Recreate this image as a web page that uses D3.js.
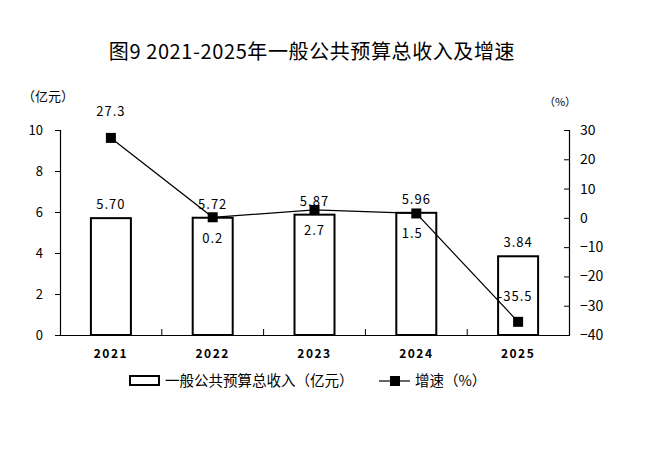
<!DOCTYPE html>
<html>
<head>
<meta charset="utf-8">
<script src="https://cdn.jsdelivr.net/npm/d3@7"></script>
<style>
  body { margin: 0; background: #fff; }
  text { font-family: "Noto Sans CJK SC", "Noto Sans", sans-serif; fill: #000; }
</style>
</head>
<body>
<svg id="chart" width="663" height="449"></svg>
<script>
const years = ['2021', '2022', '2023', '2024', '2025'];
const revenue = [5.70, 5.72, 5.87, 5.96, 3.84];
const growth = [27.3, 0.2, 2.7, 1.5, -35.5];
const leftTicks = [0, 2, 4, 6, 8, 10];
const rightTicks = [-40, -30, -20, -10, 0, 10, 20, 30];

const svg = d3.select('#chart');
const margin = { left: 60, right: 569, top: 130, bottom: 335 };

const x = d3.scaleBand().domain(years).range([margin.left, margin.right]);
const yLeft = d3.scaleLinear().domain([0, 10]).range([margin.bottom, margin.top]);
const yRight = d3.scaleLinear().domain([-40, 30]).range([margin.bottom, margin.top]);

// title
svg.append('text')
  .attr('x', 312).attr('y', 59)
  .attr('text-anchor', 'middle')
  .attr('font-size', 20)
  .attr('font-weight', 400)
  .attr('letter-spacing', 0.6)
  .text('图9 2021-2025年一般公共预算总收入及增速');

// unit labels
svg.append('text').attr('x', 48).attr('y', 101).attr('text-anchor', 'middle')
  .attr('font-size', 13).text('（亿元）');
svg.append('text').attr('x', 560).attr('y', 106).attr('text-anchor', 'middle')
  .attr('font-size', 11).text('（%）');

// left axis
const leftAxis = svg.append('g')
  .attr('transform', `translate(${margin.left},0)`)
  .call(d3.axisLeft(yLeft).tickValues(leftTicks).tickSize(5).tickPadding(12));
leftAxis.selectAll('text').attr('font-size', 13);

// right axis
const rightAxis = svg.append('g')
  .attr('transform', `translate(${margin.right},0)`)
  .call(d3.axisRight(yRight).tickValues(rightTicks).tickSize(-5).tickPadding(11));
rightAxis.selectAll('text').attr('font-size', 14);

[leftAxis, rightAxis].forEach(g => {
  g.select('.domain').attr('stroke', '#000').attr('stroke-width', 1.2);
  g.selectAll('.tick line').attr('stroke', '#000');
});

// bottom axis
const bottomAxis = svg.append('g')
  .attr('transform', `translate(0,${margin.bottom})`)
  .call(d3.axisBottom(x).tickSize(0).tickPadding(14));
bottomAxis.select('.domain').attr('stroke', '#000').attr('stroke-width', 1.2);
bottomAxis.selectAll('text').attr('font-size', 12).attr('font-weight', 'bold')
  .attr('letter-spacing', 1.5);
// category separators
bottomAxis.selectAll('.sep')
  .data(years.slice(1))
  .join('line')
  .attr('class', 'sep')
  .attr('x1', d => x(d)).attr('x2', d => x(d))
  .attr('y1', 0).attr('y2', -6)
  .attr('stroke', '#000');

// bars
const barW = 40;
svg.append('g').selectAll('rect')
  .data(years)
  .join('rect')
  .attr('x', d => x(d) + x.bandwidth() / 2 - barW / 2)
  .attr('y', (d, i) => yLeft(revenue[i]))
  .attr('width', barW)
  .attr('height', (d, i) => yLeft(0) - yLeft(revenue[i]))
  .attr('fill', '#fff')
  .attr('stroke', '#000')
  .attr('stroke-width', 2);

svg.append('g').selectAll('text')
  .data(years)
  .join('text')
  .attr('x', d => x(d) + x.bandwidth() / 2)
  .attr('y', (d, i) => yLeft(revenue[i]) - 9)
  .attr('text-anchor', 'middle')
  .attr('font-size', 13)
  .attr('letter-spacing', 1)
  .text((d, i) => revenue[i].toFixed(2));

// growth line
const cx = d => x(d) + x.bandwidth() / 2;
const line = d3.line()
  .x(d => cx(d))
  .y((d, i) => yRight(growth[i]));
svg.append('path')
  .datum(years)
  .attr('d', line)
  .attr('fill', 'none')
  .attr('stroke', '#000')
  .attr('stroke-width', 1.2);

svg.append('g').selectAll('rect')
  .data(years)
  .join('rect')
  .attr('x', d => cx(d) - 5)
  .attr('y', (d, i) => yRight(growth[i]) - 5)
  .attr('width', 10).attr('height', 10)
  .attr('fill', '#000');

// growth labels: offsets so they sit like the reference
const labelDx = [0, 0, 0, -4, -3];
const labelDy = [-26, 22, 21, 21, -25];
svg.append('g').selectAll('text')
  .data(years)
  .join('text')
  .attr('x', (d, i) => cx(d) + labelDx[i])
  .attr('y', (d, i) => yRight(growth[i]) + labelDy[i] + 4)
  .attr('text-anchor', 'middle')
  .attr('font-size', 13)
  .attr('letter-spacing', 1)
  .text((d, i) => growth[i].toFixed(1));

// legend
const legend = svg.append('g');
legend.append('rect')
  .attr('x', 130).attr('y', 376).attr('width', 29).attr('height', 9)
  .attr('fill', '#fff').attr('stroke', '#000').attr('stroke-width', 2);
legend.append('text')
  .attr('x', 165).attr('y', 386).attr('font-size', 14.5)
  .text('一般公共预算总收入（亿元）');
legend.append('line')
  .attr('x1', 379).attr('x2', 410).attr('y1', 381).attr('y2', 381)
  .attr('stroke', '#000').attr('stroke-width', 1.2);
legend.append('rect')
  .attr('x', 390).attr('y', 376).attr('width', 10).attr('height', 10).attr('fill', '#000');
legend.append('text')
  .attr('x', 415).attr('y', 386).attr('font-size', 14.5)
  .text('增速（%）');
</script>
</body>
</html>
